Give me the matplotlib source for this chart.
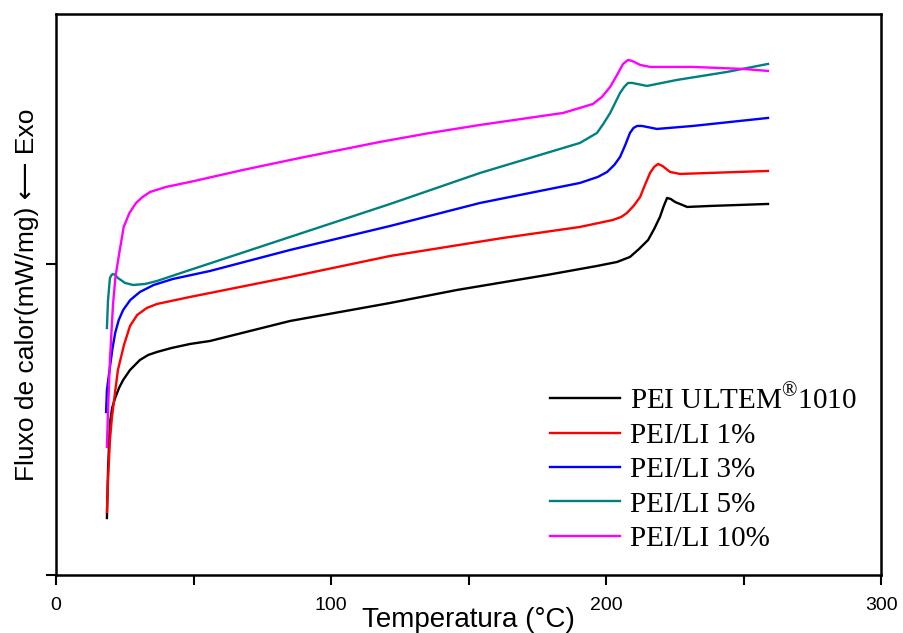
import matplotlib
matplotlib.use("Agg")
import matplotlib.pyplot as plt

plt.rcParams['mathtext.fontset'] = 'custom'
plt.rcParams['mathtext.rm'] = 'Liberation Serif'

labels = ["PEI ULTEM$^{\\mathrm{®}}$1010", "PEI/LI 1%", "PEI/LI 3%", "PEI/LI 5%", "PEI/LI 10%"]
colors = ["#000000", "#ff0000", "#0000ff", "#008080", "#ff00ff"]

t_black = [18.5, 18.9, 19.6, 20.4, 21.5, 22.9, 24.4, 26.9, 30.5, 33.5, 36.7, 42.0, 48.7, 56.0, 85.1, 121.5, 145.8, 178.5, 196.7, 204.0, 208.7, 212.0, 215.3, 217.5, 219.6, 221.0, 222.2, 223.5, 225.1, 229.5, 237.8, 258.9]
y_black = [57, 105, 152, 167, 177, 187, 195, 205, 215, 220, 223, 227, 231, 234, 254, 272, 285, 300, 309, 313, 318, 326, 335, 346, 358, 369, 377, 376, 373, 368, 369, 371]

t_red = [18.5, 18.9, 19.6, 20.3, 21.1, 22.5, 24.7, 26.9, 29.5, 33.0, 36.7, 48.7, 56.0, 85.1, 121.5, 162.5, 190.5, 202.5, 205.5, 207.6, 210.0, 212.4, 214.3, 216.0, 217.5, 218.9, 220.5, 223.3, 226.9, 258.9]
y_red = [63, 95, 135, 157, 175, 205, 230, 249, 260, 267, 271, 278, 282, 298, 319, 337, 348, 355, 358, 362, 369, 378, 391, 402, 408, 411, 409, 403, 401, 404]

t_blue = [18.2, 18.5, 19.6, 20.5, 21.5, 22.8, 24.4, 27.0, 30.5, 35.5, 42.5, 56.0, 85.1, 121.5, 154.2, 190.5, 197.0, 200.4, 203.0, 205.1, 207.0, 208.7, 210.0, 211.3, 213.0, 214.9, 218.5, 231.6, 258.9]
y_blue = [163, 185, 208, 226, 242, 255, 265, 275, 283, 290, 296, 304, 325, 349, 372, 392, 398, 403, 410, 418, 430, 442, 447, 449, 449, 448, 446, 449, 457]

t_teal = [18.5, 18.9, 19.6, 20.2, 20.7, 21.5, 22.5, 25.1, 28.0, 32.4, 36.7, 48.7, 85.1, 121.5, 154.2, 190.5, 196.7, 199.0, 201.5, 203.3, 205.1, 206.6, 208.0, 209.5, 211.3, 214.9, 225.8, 244.0, 258.9]
y_teal = [247, 275, 297, 300, 301, 300, 297, 292, 290, 291, 294, 305, 338, 371, 402, 432, 442, 451, 462, 472, 482, 488, 492, 492, 491, 489, 495, 503, 511]

t_mag = [18.5, 18.9, 19.6, 20.7, 21.6, 23.0, 24.6, 26.7, 29.1, 31.5, 34.2, 40.0, 48.7, 68.0, 88.7, 117.8, 136.0, 154.2, 184.4, 195.3, 198.5, 201.5, 204.0, 206.2, 208.0, 209.5, 212.4, 216.0, 231.6, 249.8, 258.9]
y_mag = [128, 165, 215, 270, 298, 322, 348, 362, 372, 378, 383, 388, 393, 405, 417, 433, 442, 450, 462, 471, 478, 488, 500, 511, 515, 514, 510, 508, 508, 506, 504]

series = [(t_black, y_black), (t_red, y_red), (t_blue, y_blue), (t_teal, y_teal), (t_mag, y_mag)]

fig = plt.figure(figsize=(9.04, 6.33), dpi=100)
ax = fig.add_axes([0.062, 0.0916, 0.9126, 0.8864])

for (t, y), c, lab in zip(series, colors, labels):
    ax.plot(t, y, color=c, lw=1.7, label=lab, solid_joinstyle='round')

ax.set_xlim(0, 300)
ax.set_ylim(0, 561)
ax.set_xticks([0, 50, 100, 150, 200, 250, 300])
ax.set_xticklabels(["0", "", "100", "", "200", "", "300"], fontsize=14, family='Liberation Sans')
ax.set_yticks([0, 311])
ax.set_yticklabels(["", ""])
ax.tick_params(axis='both', direction='out', length=7, width=1.5)
ax.tick_params(axis='x', pad=9)
for s in ax.spines.values():
    s.set_linewidth(1.8)

ax.set_xlabel("Temperatura (°C)", fontsize=20, family='Liberation Sans', labelpad=-5)
ax.set_ylabel("Fluxo de calor(mW/mg) \u27f5 Exo", fontsize=19, family=['Liberation Sans', 'DejaVu Sans'], labelpad=2)

leg = ax.legend(loc='upper left', bbox_to_anchor=(0.599, 0.341), frameon=False,
                prop={'family': 'Liberation Serif', 'size': 21},
                handlelength=2.4, handletextpad=0.35, labelspacing=0.27,
                borderpad=0, borderaxespad=0)

fig.savefig("out.png", dpi=100)
